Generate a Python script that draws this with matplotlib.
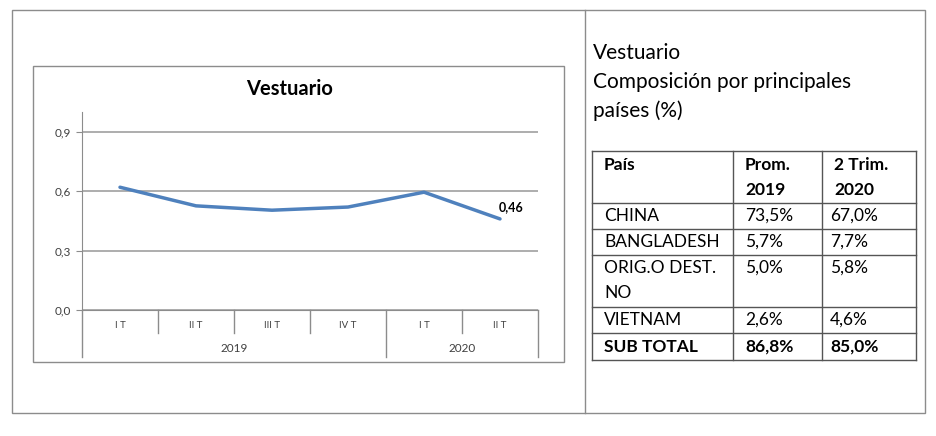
import numpy as np
import matplotlib.pyplot as plt
from matplotlib.patches import Rectangle
from matplotlib.lines import Line2D
import matplotlib.transforms as mtransforms

plt.rcParams['font.family'] = ['Lato', 'DejaVu Sans']

# chart data
quarters = ['I T', 'II T', 'III T', 'IV T', 'I T', 'II T']
years = ['2019', '2020']
year_span = [4, 2]
values = [0.62, 0.526, 0.504, 0.52, 0.595, 0.46]
last_label = '0,46'
yticks = [0.0, 0.3, 0.6, 0.9]
ytick_labels = ['0,0', '0,3', '0,6', '0,9']

# table data
tbl_header = [['País', ''], ['Prom.', '2019'], ['2 Trim.', '2020']]
tbl_countries = [['CHINA'], ['BANGLADESH'], ['ORIG.O DEST.', 'NO'], ['VIETNAM']]
tbl_2019 = ['73,5%', '5,7%', '5,0%', '2,6%']
tbl_2020 = ['67,0%', '7,7%', '5,8%', '4,6%']
tbl_total = ['SUB TOTAL', '86,8%', '85,0%']

W, H = 937, 436
fig = plt.figure(figsize=(W / 100, H / 100), dpi=100)

def fx(x):
    return x / W

def fy(y):
    return 1 - y / H

gray = '#8c8c8c'
# outer frame and divider
fig.add_artist(Rectangle((fx(12), fy(413)), fx(925 - 12), (413 - 10) / H,
                         fill=False, edgecolor=gray, lw=1, transform=fig.transFigure))
fig.add_artist(Line2D([fx(585), fx(585)], [fy(10), fy(413)], color=gray, lw=1))
# chart box
fig.add_artist(Rectangle((fx(33), fy(362)), fx(564 - 33), (362 - 66) / H,
                         fill=False, edgecolor=gray, lw=1, transform=fig.transFigure))

fig.text(fx(290), fy(89), 'Vestuario', ha='center', va='center',
         fontsize=14.5, fontweight='bold')

ax = fig.add_axes([fx(82), fy(310), fx(538 - 82), (310 - 112) / H])
n = len(quarters)
xs = np.arange(n) + 0.5
ax.plot(xs, values, color='#4F81BD', lw=2.5, solid_capstyle='round')
ax.set_xlim(0, n)
ax.set_ylim(0, 1.0)
ax.set_yticks(yticks)
ax.set_yticklabels(ytick_labels, fontsize=8.5, color='#404040')
ax.grid(axis='y', color='#a0a0a0', lw=1.2)
for s in ['top', 'right']:
    ax.spines[s].set_visible(False)
ax.spines['left'].set_color(gray)
ax.spines['bottom'].set_color(gray)
ax.tick_params(axis='y', length=4, color=gray, pad=4)
ax.set_xticks([])
ax.annotate(last_label, (xs[-1], values[-1]), xytext=(-1, 4), textcoords='offset points',
            fontsize=9, fontweight='bold', ha='left', va='bottom')

# category axis drawn below the plot
trans = mtransforms.blended_transform_factory(ax.transData, ax.transAxes)
d1 = -(333 - 310) / 198
d2 = -(357 - 310) / 198
boundaries = [0] + list(np.cumsum(year_span))
for i in range(n + 1):
    bottom = d2 if i in boundaries else d1
    ax.plot([i, i], [0, bottom], transform=trans, color=gray, lw=1, clip_on=False)
for i, q in enumerate(quarters):
    ax.text(i + 0.5, -(326 - 310) / 198, q, transform=trans, ha='center', va='center',
            fontsize=7, color='#404040')
start = 0
for yr, span in zip(years, year_span):
    ax.text(start + span / 2, -(349 - 310) / 198, yr, transform=trans, ha='center',
            va='center', fontsize=8.5, color='#404040')
    start += span

# right side text
fs = 12.5
fig.text(fx(593), fy(53), 'Vestuario', fontsize=15, va='center')
fig.text(fx(593), fy(82), 'Composición por principales', fontsize=15, va='center')
fig.text(fx(593), fy(111), 'países (%)', fontsize=15, va='center')

# table grid
cols = [592, 733, 822, 916]
rows = [151, 203, 229, 255, 307, 333, 360]
for c in cols:
    fig.add_artist(Line2D([fx(c), fx(c)], [fy(rows[0]), fy(rows[-1])], color='#555555', lw=1))
for r in rows:
    fig.add_artist(Line2D([fx(cols[0]), fx(cols[-1])], [fy(r), fy(r)], color='#555555', lw=1))

line_h = 25
for j, (a, b) in enumerate(tbl_header):
    fig.text(fx(cols[j] + 12), fy(rows[0] + 14), a, fontsize=fs, fontweight='bold', va='center')
    fig.text(fx(cols[j] + 12), fy(rows[0] + 14 + line_h), b, fontsize=fs, fontweight='bold', va='center')
for i, name in enumerate(tbl_countries):
    top = rows[i + 1]
    for k, part in enumerate(name):
        fig.text(fx(cols[0] + 12), fy(top + 13 + k * line_h), part, fontsize=fs, va='center')
    fig.text(fx(cols[1] + 12), fy(top + 13), tbl_2019[i], fontsize=fs, va='center')
    fig.text(fx(cols[2] + 8), fy(top + 13), tbl_2020[i], fontsize=fs, va='center')
for j, t in enumerate(tbl_total):
    fig.text(fx(cols[j] + (8 if j == 2 else 12)), fy(rows[-2] + 14), t, fontsize=fs,
             fontweight='bold', va='center')

fig.savefig('out.png', dpi=100, facecolor='white')
